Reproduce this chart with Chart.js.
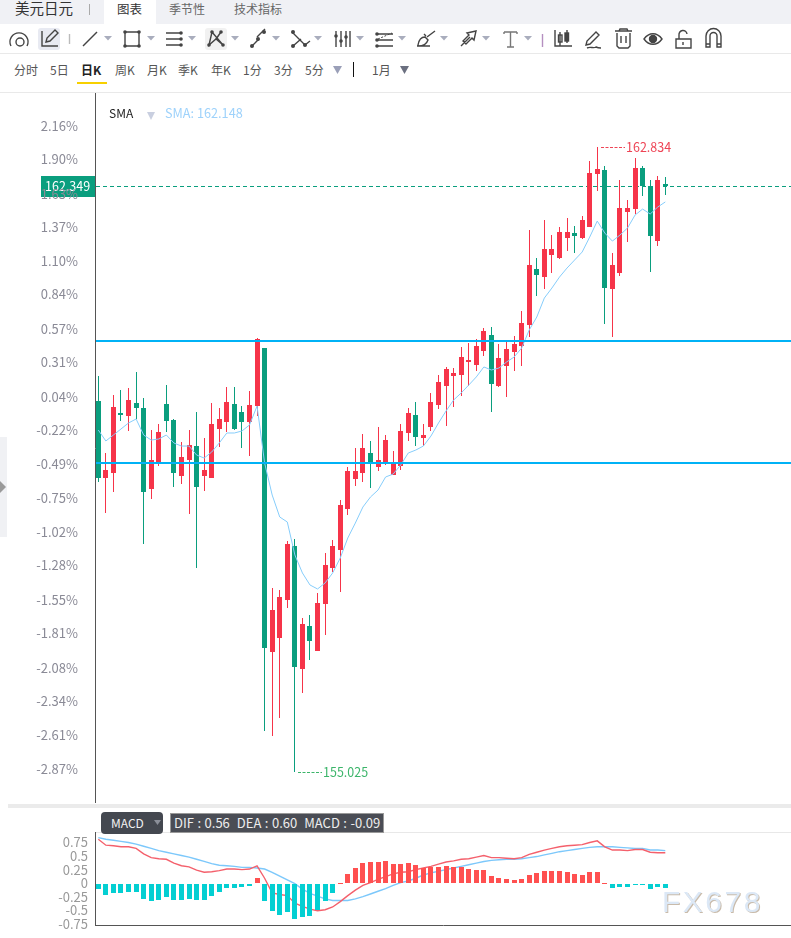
<!DOCTYPE html>
<html lang="zh">
<head>
<meta charset="utf-8">
<title>美元日元</title>
<script src="https://cdn.jsdelivr.net/npm/chart.js@4"></script>
<style>
  html,body{margin:0;padding:0;background:#fff;}
  body{width:791px;height:938px;position:relative;overflow:hidden;font-family:"Noto Sans CJK SC","Noto Sans",sans-serif;color:#555;}
  .abs{position:absolute;white-space:nowrap;line-height:1;}
  canvas{position:absolute;left:0;display:block;}
  #topbar{left:0;top:0;width:791px;height:24px;background:#f0f1f5;}
  #tab{left:104px;top:0;width:52px;height:24px;background:#fff;}
  .period{top:64px;font-size:12px;color:#555;}
  .rule{background:#e9e9e9;height:1px;}
</style>
</head>
<body>
<div class="abs" id="topbar"></div>
<div class="abs" id="tab"></div>
<div class="abs" style="left:15px;top:1px;font-size:14.5px;color:#333;">美元日元</div>
<div class="abs" style="left:89px;top:4px;width:1px;height:11px;background:#aaa;"></div>
<div class="abs" style="left:117px;top:3px;font-size:12.5px;color:#333;">图表</div>
<div class="abs" style="left:169px;top:3px;font-size:12px;color:#666;">季节性</div>
<div class="abs" style="left:234px;top:3px;font-size:12px;color:#666;">技术指标</div>

<svg class="abs" id="tools" style="left:0;top:24px" width="791" height="29" viewBox="0 0 791 29" fill="none" stroke="#444" stroke-width="1.4">
  <rect x="38" y="4" width="22" height="22" rx="3" fill="#e8eaf2" stroke="none"/>
  <rect x="205" y="4" width="22" height="22" rx="3" fill="#f1f1f1" stroke="none"/>
  <path d="M11 22a9 9 0 1 1 16 0"/><circle cx="20" cy="18" r="4"/>
  <path d="M42 7v15h16"/><path d="M46 18l1-4 8-8 3 3-8 8z"/>
  <path d="M69.500 10v10" stroke="#bbb"/>
  <path d="M83 22L97 8"/>
  <path d="M125 8h14v14h-14z"/><g fill="#444" stroke="none"><circle cx="125" cy="8" r="1.800"/><circle cx="139" cy="8" r="1.800"/><circle cx="125" cy="22" r="1.800"/><circle cx="139" cy="22" r="1.800"/></g>
  <path d="M166 9h16M166 15h16M166 21h16"/><g fill="#444" stroke="none"><circle cx="181" cy="9" r="1.800"/><circle cx="181" cy="15" r="1.800"/><circle cx="181" cy="21" r="1.800"/></g>
  <path d="M209 21l3-13 11 13-7-6zM212 8l-3 13"/><g fill="#444" stroke="none"><circle cx="209" cy="21" r="1.800"/><circle cx="212" cy="8" r="1.800"/><circle cx="223" cy="21" r="1.800"/><circle cx="221" cy="8" r="1.800"/></g><path d="M221 8l-5 7"/>
  <path d="M250 22l8-8M256 12l8-8" transform="translate(1 1)"/><g fill="#444" stroke="none"><circle cx="252" cy="22" r="2"/><circle cx="258" cy="15" r="2"/><circle cx="264" cy="8" r="2"/></g>
  <path d="M292 8l13 13M293 22l8-7M305 21l5-4"/><g fill="#444" stroke="none"><circle cx="293" cy="8" r="2"/><circle cx="293" cy="22" r="2"/><circle cx="305" cy="21" r="2"/></g>
  <path d="M336 7v16M341 7v16M346 7v16M350 7v16"/><g fill="#444" stroke="none"><circle cx="336" cy="12" r="1.800"/><circle cx="341" cy="17" r="1.800"/><circle cx="346" cy="13" r="1.800"/></g>
  <path d="M377 10h16M377 16h16M377 22h16"/><path d="M378 15l14-6" stroke-dasharray="2 1.500" stroke-width="1"/><g fill="#444" stroke="none"><circle cx="377" cy="10" r="1.800"/><circle cx="377" cy="16" r="1.800"/><circle cx="377" cy="22" r="1.800"/></g>
  <path d="M417 22h13M418 21c1-6 4-8 7-8l3 3c-1 3-4 6-10 6zM427 13l8-6M424 10l2 2"/>
  <path d="M461 22l9-9M467 9l9-2-2 9-2-2-6 6-3-3 6-6z"/>
  <path d="M504 8h13M510.500 8v15M507 23h7M504 8v2M517 8v2" stroke="#777"/>
  <path d="M542.500 10v13" stroke="#b58fc0"/>
  <path d="M555 6v16h17"/><rect x="558.500" y="11" width="3.500" height="7"/><rect x="565" y="9" width="3.500" height="8" fill="#444"/><path d="M560 8v14M567 6v13"/>
  <path d="M586 21l1-4 9-9 3 3-9 9zM587 24c4-2 6 1 9-1 2 1 3 1 5 1"/>
  <path d="M615 7h17M619 7l1-2h7l1 2M617 9v13l2 2h9l2-2V9M621 12v7M626 12v7"/>
  <path d="M644 15c5-7 13-7 18 0-5 7-13 7-18 0z"/><circle cx="653" cy="15" r="3.500" fill="#444"/>
  <path d="M676 15h15v9h-15zM679 15v-4a4 4 0 0 1 8-1M683 18v3"/>
  <path d="M706 23V12a7.500 7.500 0 0 1 15 0v11h-4V12a3.500 3.500 0 0 0-7 0v11zM706 20h4M717 20h4"/>
  <g fill="#a9adbd" stroke="none">
    <path d="M104 12h8l-4 4.500z"/><path d="M147 12h8l-4 4.500z"/><path d="M188 12h8l-4 4.500z"/><path d="M231 12h8l-4 4.500z"/>
    <path d="M272 12h8l-4 4.500z"/><path d="M314 12h8l-4 4.500z"/><path d="M356 12h8l-4 4.500z"/><path d="M398 12h8l-4 4.500z"/>
    <path d="M440 12h8l-4 4.500z"/><path d="M482 12h8l-4 4.500z"/><path d="M524 12h8l-4 4.500z"/>
  </g>
</svg>
<div class="abs rule" style="left:0;top:53px;width:791px;"></div>

<div class="abs period" style="left:14px;">分时</div>
<div class="abs period" style="left:50px;">5日</div>
<div class="abs period" style="left:81px;color:#222;font-weight:700;">日K</div>
<div class="abs" style="left:77px;top:82px;width:30px;height:2px;background:#f7d000;"></div>
<div class="abs period" style="left:115px;">周K</div>
<div class="abs period" style="left:147px;">月K</div>
<div class="abs period" style="left:178px;">季K</div>
<div class="abs period" style="left:211px;">年K</div>
<div class="abs period" style="left:243px;">1分</div>
<div class="abs period" style="left:274px;">3分</div>
<div class="abs period" style="left:305px;">5分</div>
<svg class="abs" style="left:333px;top:65px" width="10" height="10"><path d="M0 1h9L4.500 9z" fill="#9a9fb8"/></svg>
<div class="abs" style="left:353px;top:62px;width:1px;height:15px;background:#111;"></div>
<div class="abs period" style="left:372px;">1月</div>
<svg class="abs" style="left:400px;top:65px" width="10" height="10"><path d="M0 1h9L4.500 9z" fill="#6b7080"/></svg>
<div class="abs rule" style="left:0;top:92px;width:791px;"></div>

<canvas id="priceChart" width="791" height="710" style="top:93px;width:791px;height:710px;"></canvas>

<div class="abs" style="left:109px;top:107px;font-size:12px;color:#222;">SMA</div>
<svg class="abs" style="left:147px;top:111px" width="10" height="10"><path d="M0 1h8L4 9z" fill="#c9cfe0"/></svg>
<div class="abs" style="left:165px;top:107px;font-size:12.700px;color:#9ed2fb;">SMA: 162.148</div>

<div class="abs" style="left:0;top:437px;width:7px;height:100px;background:#f0f1f4;"></div>
<svg class="abs" style="left:0;top:481px" width="7" height="12"><path d="M0 0l6 6-6 6z" fill="#9a9a9a"/></svg>

<div class="abs" style="left:8px;top:804px;width:783px;height:4px;background:#ebebeb;"></div>
<div class="abs" style="left:95px;top:832px;width:696px;height:1px;background:#e8e8e8;"></div>

<canvas id="macdChart" width="791" height="106" style="top:832px;width:791px;height:106px;"></canvas>

<div class="abs" style="left:101px;top:812px;width:62px;height:22px;border-radius:4px;background:#444850;"></div>
<div class="abs" style="left:111px;top:817px;font-size:12px;color:#f2f2f2;">MACD</div>
<svg class="abs" style="left:154px;top:820px" width="8" height="6"><path d="M0 0h7L3.500 5z" fill="#8b8f99"/></svg>
<div class="abs" style="left:170px;top:813px;width:212px;height:18px;background:#4a4d55;border:1px solid #999;box-sizing:content-box;"></div>
<div class="abs" style="left:174px;top:816px;font-size:13px;word-spacing:0.6px;color:#eee;white-space:pre;">DIF : 0.56  DEA : 0.60  MACD : -0.09</div>

<div class="abs" style="left:662px;top:887px;font-family:'Liberation Sans',sans-serif;font-size:30px;letter-spacing:2.500px;color:#dce8f6;text-shadow:1px 1px 0 #c9bbaa;">FX678</div>

<script>
// Daily USD/JPY candles
const opens = [159.661,158.698,158.761,159.511,159.473,159.636,159.573,158.560,158.898,159.623,159.423,158.723,158.923,159.098,158.723,158.698,159.311,159.398,159.623,159.523,159.398,159.598,160.323,156.524,156.699,157.174,157.849,156.312,156.849,156.536,157.124,157.574,157.799,158.311,158.686,158.761,159.011,158.836,158.886,158.736,158.848,159.261,159.486,159.198,159.336,159.610,159.848,159.973,159.986,160.148,160.111,160.286,160.485,159.848,160.098,160.273,160.348,160.610,161.309,161.209,161.484,161.447,161.697,161.759,161.697,161.834,162.497,162.547,161.059,161.259,162.022,162.059,162.572,162.347,161.659,162.370];
const closes = [158.698,158.798,159.585,159.486,159.673,159.573,158.523,158.923,159.273,159.411,158.761,158.960,159.110,158.585,158.798,159.373,159.436,159.648,159.311,159.398,159.610,160.435,156.574,157.049,157.211,157.874,156.337,156.874,156.661,157.136,157.611,157.849,158.362,158.786,158.786,159.073,158.898,158.923,159.173,158.873,159.286,159.511,159.211,159.236,159.648,159.898,160.061,160.011,160.210,160.173,160.348,160.536,159.873,160.198,160.310,160.373,160.635,161.359,161.234,161.559,161.559,161.772,161.772,161.722,161.922,162.510,162.559,161.072,161.359,162.072,162.072,162.572,162.347,161.722,162.422,162.349];
const highs = [159.973,159.011,159.736,159.798,159.823,160.023,159.698,159.298,159.373,159.860,159.436,159.148,159.298,159.523,159.198,159.636,159.573,159.835,159.835,159.598,159.785,160.448,160.323,157.324,157.299,157.911,157.936,156.949,156.986,157.261,157.761,157.924,158.424,158.836,159.073,159.248,159.161,159.336,159.236,159.036,159.373,159.573,159.648,159.373,159.761,159.986,160.086,160.073,160.335,160.385,160.435,160.573,160.585,160.373,160.398,160.473,160.784,161.797,161.447,161.922,161.734,161.834,161.947,161.847,161.972,162.660,162.834,162.597,161.509,162.422,162.172,162.697,162.597,162.422,162.472,162.459];
const lows = [158.648,158.262,158.523,159.411,159.286,159.436,157.874,158.436,158.848,159.273,158.585,158.623,158.249,157.574,158.535,158.698,159.085,159.273,159.298,159.073,158.973,159.473,155.537,155.475,155.700,157.074,155.025,156.012,156.424,156.536,156.736,157.524,157.274,158.236,158.598,158.648,158.573,158.786,158.861,158.736,158.798,159.161,159.098,159.098,159.286,159.561,159.348,159.585,159.723,159.848,160.036,160.223,159.523,159.835,159.711,160.036,160.098,160.460,160.972,161.059,161.259,161.434,161.534,161.509,161.684,161.834,162.284,160.623,160.460,161.222,161.647,161.997,162.222,161.272,161.597,162.234];
const smaValues = [159.298,159.161,159.236,159.311,159.386,159.436,159.236,159.173,159.186,159.236,159.136,159.098,159.098,158.986,158.948,159.023,159.136,159.261,159.261,159.286,159.361,159.598,158.886,158.486,158.211,158.149,157.737,157.512,157.362,157.312,157.387,157.512,157.699,157.949,158.136,158.336,158.461,158.548,158.711,158.748,158.861,159.011,159.048,159.098,159.223,159.386,159.536,159.673,159.761,159.860,159.961,160.086,160.048,160.073,160.148,160.210,160.323,160.548,160.710,160.947,161.072,161.209,161.322,161.422,161.522,161.709,161.909,161.759,161.659,161.734,161.822,161.984,162.059,161.997,162.084,162.148];

// MACD panel
const difValues = [0.81,0.70,0.69,0.67,0.67,0.64,0.54,0.47,0.45,0.44,0.37,0.32,0.30,0.24,0.20,0.21,0.23,0.26,0.26,0.25,0.26,0.32,0.09,-0.18,-0.21,-0.23,-0.37,-0.43,-0.48,-0.51,-0.49,-0.44,-0.34,-0.23,-0.13,-0.04,0.01,0.07,0.12,0.17,0.20,0.21,0.25,0.28,0.31,0.35,0.39,0.41,0.44,0.45,0.48,0.51,0.47,0.47,0.46,0.45,0.47,0.53,0.57,0.61,0.64,0.67,0.69,0.70,0.71,0.75,0.78,0.67,0.61,0.61,0.60,0.62,0.62,0.57,0.56,0.56];
const deaValues = [0.84,0.81,0.79,0.77,0.75,0.72,0.68,0.64,0.60,0.57,0.54,0.51,0.48,0.44,0.40,0.36,0.33,0.32,0.31,0.29,0.29,0.28,0.26,0.20,0.13,0.06,-0.01,-0.11,-0.19,-0.24,-0.29,-0.32,-0.32,-0.32,-0.29,-0.25,-0.20,-0.15,-0.10,-0.04,0.01,0.04,0.09,0.15,0.19,0.22,0.25,0.28,0.31,0.34,0.37,0.40,0.42,0.43,0.44,0.44,0.45,0.47,0.49,0.52,0.55,0.58,0.60,0.62,0.64,0.66,0.67,0.67,0.67,0.66,0.65,0.64,0.64,0.61,0.61,0.60];
const macdValues = [-0.11,-0.21,-0.18,-0.18,-0.16,-0.16,-0.29,-0.33,-0.31,-0.26,-0.31,-0.31,-0.29,-0.32,-0.31,-0.23,-0.16,-0.09,-0.09,-0.07,-0.05,0.10,-0.33,-0.51,-0.59,-0.53,-0.66,-0.62,-0.60,-0.50,-0.33,-0.18,0.01,0.17,0.28,0.37,0.39,0.39,0.41,0.36,0.36,0.37,0.34,0.28,0.29,0.30,0.32,0.30,0.30,0.26,0.24,0.24,0.13,0.10,0.07,0.06,0.08,0.15,0.19,0.23,0.23,0.23,0.21,0.17,0.15,0.21,0.21,0.01,-0.09,-0.07,-0.07,-0.01,-0.01,-0.10,-0.07,-0.09];

// Axis ticks and reference levels
const percentTicks = [2.16,1.90,1.63,1.37,1.10,0.84,0.57,0.31,0.04,-0.22,-0.49,-0.75,-1.02,-1.28,-1.55,-1.81,-2.08,-2.34,-2.61,-2.87];
const macdTicks = [0.75,0.5,0.25,0,-0.25,-0.5,-0.75];
const basePrice = 159.65;
const lastPrice = 162.349;
const levelLines = [160.411, 158.886];

const UP = '#f63449', DOWN = '#0a9e7e', SMA_COLOR = '#86cdfb';
const FONT = '"Noto Sans CJK SC","Noto Sans",sans-serif';

// Bars land on whole pixels so candle bodies and wicks keep hard edges.
const crispBars = {
  id: 'crispBars',
  afterDatasetsUpdate(chart) {
    chart.data.datasets.forEach((ds, i) => {
      if (ds.type !== 'bar') return;
      chart.getDatasetMeta(i).data.forEach(el => {
        el.x = Math.floor(el.x) + 0.5;
        el.y = Math.round(el.y);
        el.base = Math.round(el.base);
        if (el.base === el.y) el.base = el.y + 1;
      });
    });
  }
};

// Price tag and its dashed level go underneath the axis labels.
const priceTag = {
  id: 'priceTag',
  beforeDraw(chart) {
    const y = Math.round(chart.scales.y.getPixelForValue(lastPrice));
    const c = chart.ctx;
    c.save();
    c.fillStyle = DOWN;
    c.fillRect(41, y - 10, 54, 21);
    c.fillStyle = '#fff';
    c.font = '12.5px ' + FONT;
    c.textBaseline = 'middle';
    c.fillText(lastPrice.toFixed(3), 45, y + 0.5);
    c.strokeStyle = DOWN;
    c.lineWidth = 1;
    c.setLineDash([4, 3]);
    c.beginPath();
    c.moveTo(96, y + 0.5);
    c.lineTo(791, y + 0.5);
    c.stroke();
    c.restore();
  }
};

// Support and resistance lines plus the high and low markers.
const overlays = {
  id: 'overlays',
  afterDatasetsDraw(chart) {
    const {x: xs, y: ys} = chart.scales;
    const c = chart.ctx;
    c.save();
    c.fillStyle = '#00b2f6';
    levelLines.forEach(v => c.fillRect(96, Math.round(ys.getPixelForValue(v)) - 1, 695, 2));
    const marker = (value, index, color) => {
      const x = Math.floor(xs.getPixelForValue(index)) + 4;
      const y = Math.round(ys.getPixelForValue(value));
      c.strokeStyle = color;
      c.lineWidth = 1;
      c.setLineDash([3, 1.5]);
      c.beginPath();
      c.moveTo(x, y + 0.5);
      c.lineTo(x + 24, y + 0.5);
      c.stroke();
      c.setLineDash([]);
      c.fillStyle = color;
      c.font = '12.5px ' + FONT;
      c.textBaseline = 'middle';
      c.fillText(value.toFixed(3), x + 25, y + 0.5);
    };
    const top = Math.max(...highs), bottom = Math.min(...lows);
    marker(top, highs.indexOf(top), '#ee4455');
    marker(bottom, lows.indexOf(bottom), '#3cb56a');
    c.restore();
  }
};

const candleColors = opens.map((o, i) => closes[i] >= o ? UP : DOWN);

new Chart(document.getElementById('priceChart'), {
  type: 'bar',
  data: {
    datasets: [
      {
        type: 'line', data: smaValues.map((v, i) => ({x: i, y: v})),
        borderColor: SMA_COLOR, borderWidth: 1, pointRadius: 0, tension: 0, order: 0
      },
      {
        type: 'bar', data: closes.map((v, i) => ({x: i, y: [opens[i], v]})),
        backgroundColor: candleColors, barThickness: 5, grouped: false, inflateAmount: 0, order: 1
      },
      {
        type: 'bar', data: highs.map((v, i) => ({x: i, y: [lows[i], v]})),
        backgroundColor: candleColors, barThickness: 1, grouped: false, inflateAmount: 0, order: 2
      }
    ]
  },
  plugins: [crispBars, priceTag, overlays],
  options: {
    responsive: false, animation: false,
    layout: {padding: 0},
    plugins: {legend: {display: false}, tooltip: {enabled: false}},
    scales: {
      x: {type: 'linear', display: false, offset: false, min: -0.437, max: 91.627},
      y: {
        type: 'linear', min: 154.638, max: 163.509,
        afterBuildTicks(s) { s.ticks = percentTicks.map(p => ({value: basePrice * (1 + p / 100)})); },
        afterFit(s) { s.width = 95; s.paddingTop = 0; s.paddingBottom = 0; },
        grid: {drawOnChartArea: false, drawTicks: false},
        border: {color: '#555', width: 1},
        ticks: {
          autoSkip: false, padding: 17, color: '#8a8a96',
          font: {family: FONT, size: 13},
          callback: (v, i) => percentTicks[i].toFixed(2) + '%'
        }
      }
    }
  }
});

new Chart(document.getElementById('macdChart'), {
  type: 'bar',
  data: {
    datasets: [
      {
        type: 'bar', data: macdValues.map((v, i) => ({x: i, y: v})),
        backgroundColor: macdValues.map(v => v >= 0 ? '#ff5050' : '#04cfd2'),
        barThickness: 5, inflateAmount: 0, order: 0
      },
      {
        type: 'line', data: difValues.map((v, i) => ({x: i, y: v})),
        borderColor: '#f4606c', borderWidth: 1.4, pointRadius: 0, tension: 0, order: 1
      },
      {
        type: 'line', data: deaValues.map((v, i) => ({x: i, y: v})),
        borderColor: '#7cc8fb', borderWidth: 1.4, pointRadius: 0, tension: 0, order: 2
      }
    ]
  },
  plugins: [crispBars],
  options: {
    responsive: false, animation: false,
    layout: {padding: {bottom: 12}},
    plugins: {legend: {display: false}, tooltip: {enabled: false}},
    scales: {
      x: {
        type: 'linear', offset: false, min: -0.437, max: 91.627,
        afterFit(s) { s.height = 1; },
        grid: {drawOnChartArea: false, drawTicks: false},
        border: {color: '#555', width: 1},
        ticks: {display: false}
      },
      y: {
        type: 'linear', min: -0.772, max: 0.943,
        afterBuildTicks(s) { s.ticks = macdTicks.map(v => ({value: v})); },
        afterFit(s) { s.width = 95; s.paddingTop = 0; s.paddingBottom = 0; },
        grid: {drawOnChartArea: false, drawTicks: false},
        border: {color: '#555', width: 1},
        ticks: {
          autoSkip: false, padding: 7, color: '#999',
          font: {family: FONT, size: 13},
          callback: (v, i) => String(macdTicks[i])
        }
      }
    }
  }
});
</script>
</body>
</html>
